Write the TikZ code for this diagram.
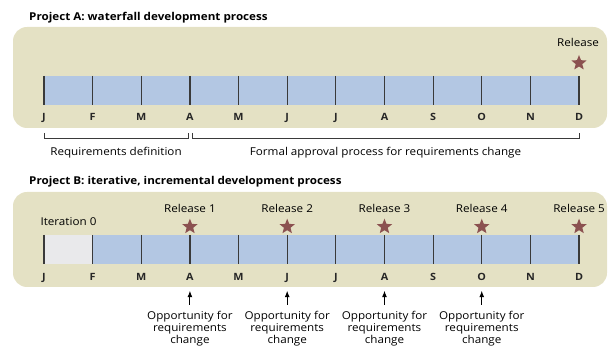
\documentclass[tikz,border=0pt]{standalone}
\usepackage{fontspec}
\setmainfont{Open Sans}[FakeStretch=1.08]
\usetikzlibrary{shapes.geometric,arrows.meta}
\definecolor{panelbg}{HTML}{E4E1C4}
\definecolor{barblue}{HTML}{B3C7E3}
\definecolor{itergray}{HTML}{E9E9EB}
\definecolor{starred}{HTML}{8B5150}
\definecolor{tickgray}{HTML}{3A3A3A}

\begin{document}
\begin{tikzpicture}[x=1pt,y=-1pt,
    title/.style={anchor=base west, inner sep=0, font=\fontsize{10.8}{13}\selectfont\bfseries},
    panel/.style={fill=panelbg, rounded corners=14pt},
    tickline/.style={draw=tickgray, line width=1.2pt},
    month/.style={anchor=base, inner sep=0, text depth=0pt, font=\fontsize{10}{12}\selectfont\bfseries, text=black!85},
    release/.style={anchor=base, inner sep=0, font=\fontsize{10.8}{12}\selectfont},
    relstar/.style={star, star points=5, star point ratio=2.3, fill=starred, minimum size=16pt, inner sep=0},
    bracket/.style={draw=tickgray, line width=1pt},
    opp/.style={anchor=north, align=center, inner sep=0, font=\fontsize{10.8}{12.2}\selectfont},
    arrow/.style={-{Latex[length=6.5pt,width=5pt]}, draw=black, line width=1pt}]
  \useasboundingbox (0,0) rectangle (611,347);

  % project A
  \node[title] (titleA) at (29,20.5) {Project A: waterfall development process};
  \path[panel] (13,27) rectangle (607,128);
  \fill[barblue] (44,76) rectangle (579,105);
  \foreach [count=\i] \m in {J,F,M,A,M,J,J,A,S,O,N,D} {
    \coordinate (a\i) at ({44+(\i-1)*48.64},76);
    \draw[tickline] (a\i) -- ++(0,29);
    \node[month] (ma\i) at ({44+(\i-1)*48.64},120.7) {\m};
  }
  \node[release] (relA) at (578,46.5) {Release};
  \node[relstar] (starA) at (579,63) {};

  \draw[bracket] (44,133) -- (44,139) -- (188,139) -- (188,133);
  \draw[bracket] (192,133) -- (192,139) -- (579,139) -- (579,133);
  \node[release] (reqdef) at (116,155.3) {Requirements definition};
  \node[release] (formal) at (385.5,155.3) {Formal approval process for requirements change};

  % project B
  \node[title] (titleB) at (29,185) {Project B: iterative, incremental development process};
  \path[panel] (13,192) rectangle (607,287);
  \fill[barblue] (92.6,235) rectangle (579,264);
  \fill[itergray] (44,235) rectangle (92.6,264);
  \foreach [count=\i] \m in {J,F,M,A,M,J,J,A,S,O,N,D} {
    \coordinate (b\i) at ({44+(\i-1)*48.64},235);
    \draw[tickline] (b\i) -- ++(0,29);
    \node[month] (mb\i) at ({44+(\i-1)*48.64},281) {\m};
  }
  \node[release] (iter0) at (68.5,225.5) {Iteration 0};
  \foreach [count=\k] \j in {4,6,8,10,12} {
    \node[release] (relB\k) at ({44+(\j-1)*48.64},212.3) {Release \k};
    \node[relstar] (starB\k) at ({44+(\j-1)*48.64},226.7) {};
  }
  \foreach [count=\k] \j in {4,6,8,10} {
    \node[opp] (opp\k) at ({44+(\j-1)*48.64},310.8) {Opportunity for\\requirements\\change};
    \draw[arrow, shorten <=6pt, shorten >=9.5pt] (opp\k.north) -- (mb\j.south);
  }
\end{tikzpicture}
\end{document}
